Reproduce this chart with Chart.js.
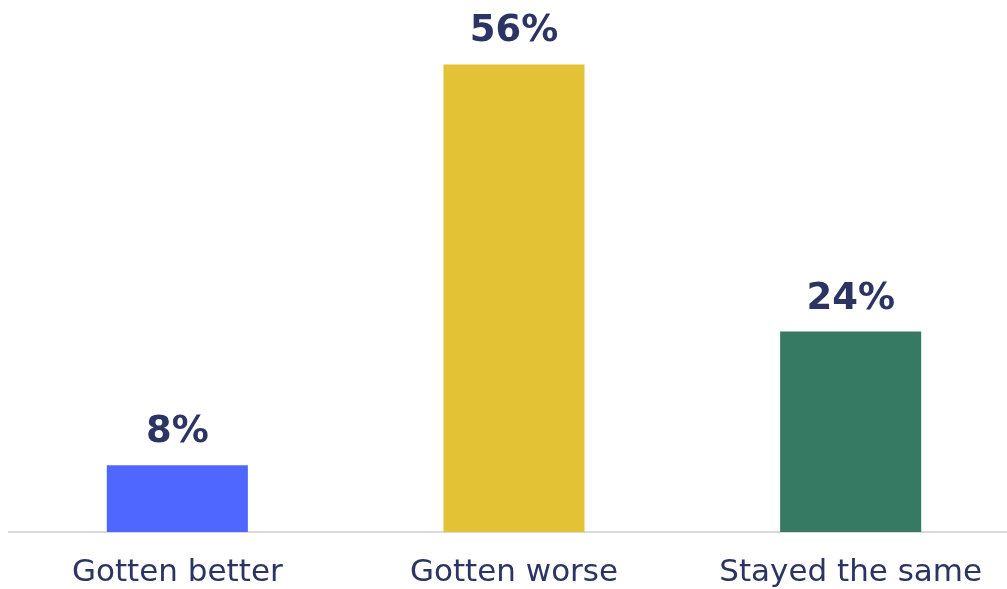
<!DOCTYPE html>
<html>
<head>
<meta charset="utf-8">
<script src="https://cdn.jsdelivr.net/npm/chart.js@4.4.1/dist/chart.umd.min.js"></script>
<style>
html,body{margin:0;padding:0;background:#fff;overflow:hidden;}
#wrap{width:1007px;height:589px;position:relative;overflow:hidden;}
canvas{display:block;}
</style>
</head>
<body>
<div id="wrap"><canvas id="c" width="1019" height="589"></canvas></div>
<script>
const categories = ["Gotten better", "Gotten worse", "Stayed the same"];
const values = [8, 56, 24];
const barColors = ["#4f66ff", "#e3c335", "#367a63"];
const textColor = "#2b3462";

const valueLabels = {
  id: 'valueLabels',
  afterDatasetsDraw(chart) {
    const ctx = chart.ctx;
    const meta = chart.getDatasetMeta(0);
    ctx.save();
    ctx.font = "bold 37px 'DejaVu Sans', sans-serif";
    ctx.fillStyle = textColor;
    ctx.textAlign = 'center';
    ctx.textBaseline = 'alphabetic';
    meta.data.forEach((bar, i) => {
      ctx.fillText(values[i] + '%', bar.x, bar.y - 23);
    });
    ctx.restore();
  }
};

new Chart(document.getElementById('c'), {
  type: 'bar',
  data: {
    labels: categories,
    datasets: [{
      data: values,
      backgroundColor: barColors,
      borderWidth: 0,
      barPercentage: 0.419,
      categoryPercentage: 1.0
    }]
  },
  options: {
    responsive: false,
    animation: false,
    layout: { padding: { left: 9, right: 0, top: 31, bottom: 0 } },
    plugins: { legend: { display: false }, tooltip: { enabled: false } },
    scales: {
      x: {
        grid: { display: false, drawTicks: false },
        border: { display: true, color: '#d9d9d9', width: 2 },
        ticks: {
          color: textColor,
          padding: 22,
          maxRotation: 0,
          autoSkip: false,
          font: { family: "'DejaVu Sans', sans-serif", size: 31 }
        },
        afterFit(scale) { scale.height = 57; }
      },
      y: {
        display: false,
        min: 0,
        max: 60
      }
    }
  },
  plugins: [valueLabels]
});
</script>
</body>
</html>
